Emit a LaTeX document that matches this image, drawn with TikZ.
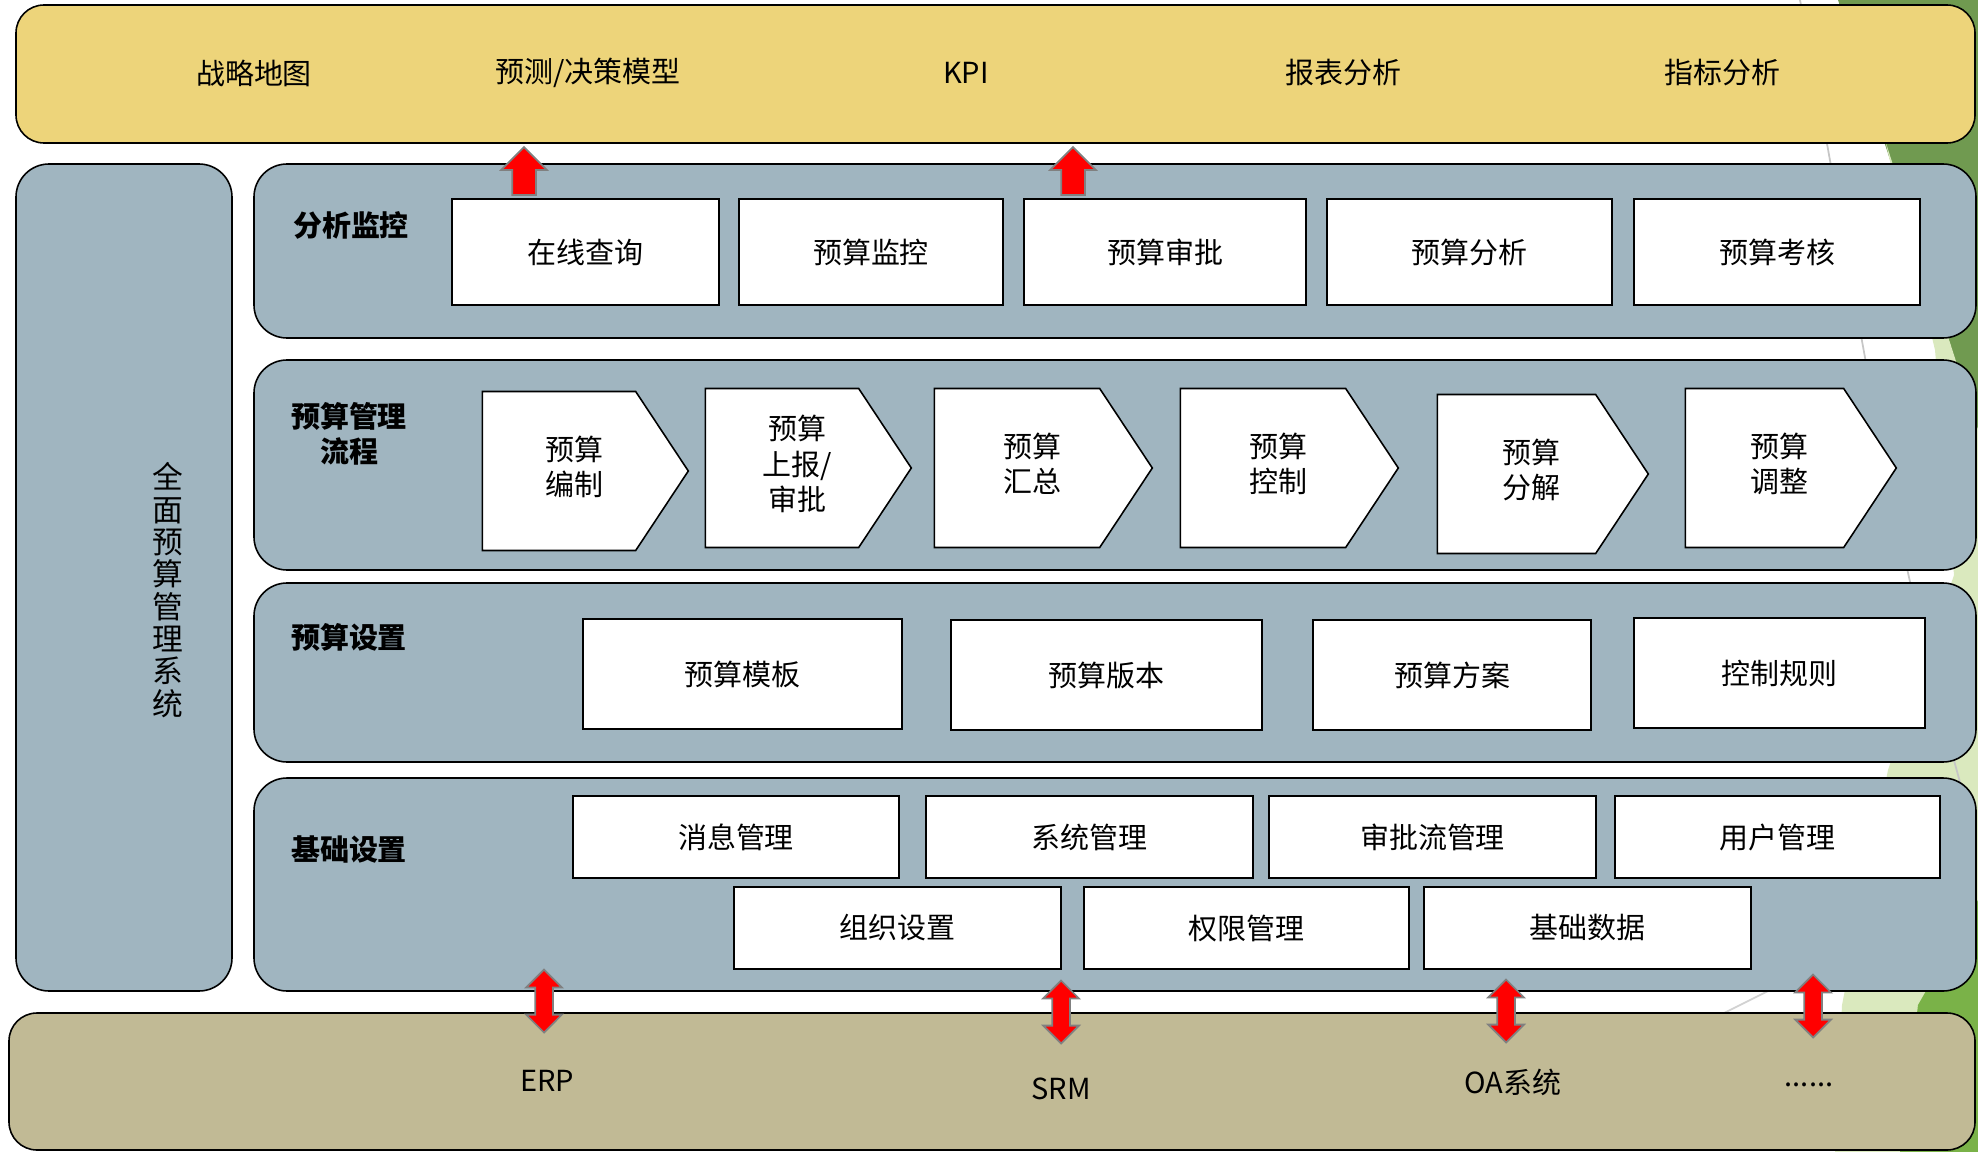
\documentclass[tikz,border=0pt]{standalone}
\usepackage{fontspec}
\setmainfont{Noto Sans CJK SC}
\usetikzlibrary{shapes.arrows,shapes.symbols}
\definecolor{gold}{RGB}{237,212,122}
\definecolor{slate}{RGB}{160,181,192}
\definecolor{khaki}{RGB}{193,186,149}
\definecolor{leaf}{RGB}{112,154,80}
\definecolor{lightleaf}{RGB}{218,233,190}
\definecolor{grass}{RGB}{122,178,72}
\newcommand\stagetext[1]{\hspace*{0.6cm}\raisebox{-0.08cm}{\begin{tabular}{@{}c@{}}#1\end{tabular}}}
\tikzstyle{band} = [draw=black, line width=0.9pt, fill=slate, rounded corners=0.66cm]
\tikzstyle{box} = [rectangle, draw=black, line width=0.9pt, fill=white, inner sep=0pt, text centered]
\tikzstyle{stage} = [signal, signal to=east, signal pointer angle=113, draw=black, line width=0.9pt, fill=white, inner sep=0pt]
\tikzstyle{tag} = [font=\fontsize{16.5}{20}\selectfont\bfseries, align=center]
\tikzstyle{uparrow} = [single arrow, rotate=90, draw=gray, fill=red, line width=1pt, inner xsep=0pt, inner ysep=0.22cm, minimum height=0.96cm, minimum width=0.88cm, single arrow head extend=0.22cm]
\tikzstyle{twoway} = [double arrow, rotate=90, draw=gray, fill=red, line width=1pt, inner xsep=0pt, inner ysep=0.16cm, minimum height=1.26cm, minimum width=0.68cm, double arrow head extend=0.18cm]

\begin{document}
\begin{tikzpicture}[x=0.02cm,y=-0.02cm,every node/.style={font=\fontsize{16.5}{20}\selectfont}]
\useasboundingbox (0,0) rectangle (1978,1152);

\fill[leaf] (1838,0) -- (1978,0) -- (1978,430) -- cycle;
\fill[lightleaf] (1885,140) -- (1978,430) -- (1978,1152) -- (1835,1152) -- (1842,1005) -- (1888,770) -- (1954,575) -- (1935,350) -- cycle;
\fill[grass] (1918,1005) -- (1978,900) -- (1978,1152) -- (1900,1152) -- cycle;
\draw[gray!45, line width=1pt] (1800,0) .. controls (1850,250) and (1880,500) .. (1965,800);
\draw[gray!35, line width=1pt] (1720,1015) -- (1800,975);

\draw[band, fill=gold, rounded corners=0.56cm] (16,5) rectangle (1975,143);
\draw[band] (16,164) rectangle (232,991);
\draw[band] (254,164) rectangle (1976,338);
\draw[band] (254,360) rectangle (1976,570);
\draw[band] (254,583) rectangle (1976,762);
\draw[band] (254,778) rectangle (1976,991);
\draw[band, fill=khaki, rounded corners=0.56cm] (9,1013) rectangle (1975,1150);

\foreach \txt/\x [count=\i] in {战略地图/254, {预测/决策模型}/588, KPI/966, 报表分析/1343, 指标分析/1722}
	\node (goal\i) at (\x,73) {\txt};

\node[font=\fontsize{17.5}{18.4}\selectfont, align=center] (sys) at (168,590) {全\\面\\预\\算\\管\\理\\系\\统};

\node[tag] (lab1) at (351,225) {分析监控};
\node[tag] (lab2) at (349,434) {预算管理\\流程};
\node[tag] (lab3) at (349,637) {预算设置};
\node[tag] (lab4) at (349,849) {基础设置};

\foreach \txt/\a/\b [count=\i] in {在线查询/452/719, 预算监控/739/1003, 预算审批/1024/1306, 预算分析/1327/1612, 预算考核/1634/1920}
	\node[box, minimum width={(\b-\a)*0.02cm}, minimum height=2.12cm] (watch\i) at ({(\a+\b)/2},252) {\txt};

\foreach \txt/\a/\b/\y [count=\i] in {{预算\\编制}/482/688/471, {预算\\上报/\\审批}/705/911/468, {预算\\汇总}/934/1152/468, {预算\\控制}/1180/1398/468, {预算\\分解}/1437/1648/474, {预算\\调整}/1685/1896/468}
	\node[stage, minimum width={(\b-\a)*0.02cm}, minimum height=3.18cm] (flow\i) at ({(\a+\b)/2-26},\y) {\stagetext{\txt}};

\foreach \txt/\a/\b/\y [count=\i] in {预算模板/583/902/674, 预算版本/951/1262/675, 预算方案/1313/1591/675, 控制规则/1634/1925/673}
	\node[box, minimum width={(\b-\a)*0.02cm}, minimum height=2.2cm] (plan\i) at ({(\a+\b)/2},\y) {\txt};

\foreach \txt/\a/\b [count=\i] in {消息管理/573/899, 系统管理/926/1253, 审批流管理/1269/1596, 用户管理/1615/1940}
	\node[box, minimum width={(\b-\a)*0.02cm}, minimum height=1.64cm] (base\i) at ({(\a+\b)/2},837) {\txt};
\foreach \txt/\a/\b [count=\i from 5] in {组织设置/734/1061, 权限管理/1084/1409, 基础数据/1424/1751}
	\node[box, minimum width={(\b-\a)*0.02cm}, minimum height=1.64cm] (base\i) at ({(\a+\b)/2},928) {\txt};

\foreach \txt/\x/\y [count=\i] in {ERP/547/1081, SRM/1061/1089, OA系统/1513/1082}
	\node (ext\i) at (\x,\y) {\txt};
\node (ext4) at (1809,1085) {......};

\node[uparrow] (up1) at (524,177) {};
\node[uparrow] (up2) at (1073,177) {};

\foreach \x/\y [count=\i] in {544/1001, 1061/1012, 1506/1011, 1813/1006}
	\node[twoway] (link\i) at (\x,\y) {};
\end{tikzpicture}
\end{document}
